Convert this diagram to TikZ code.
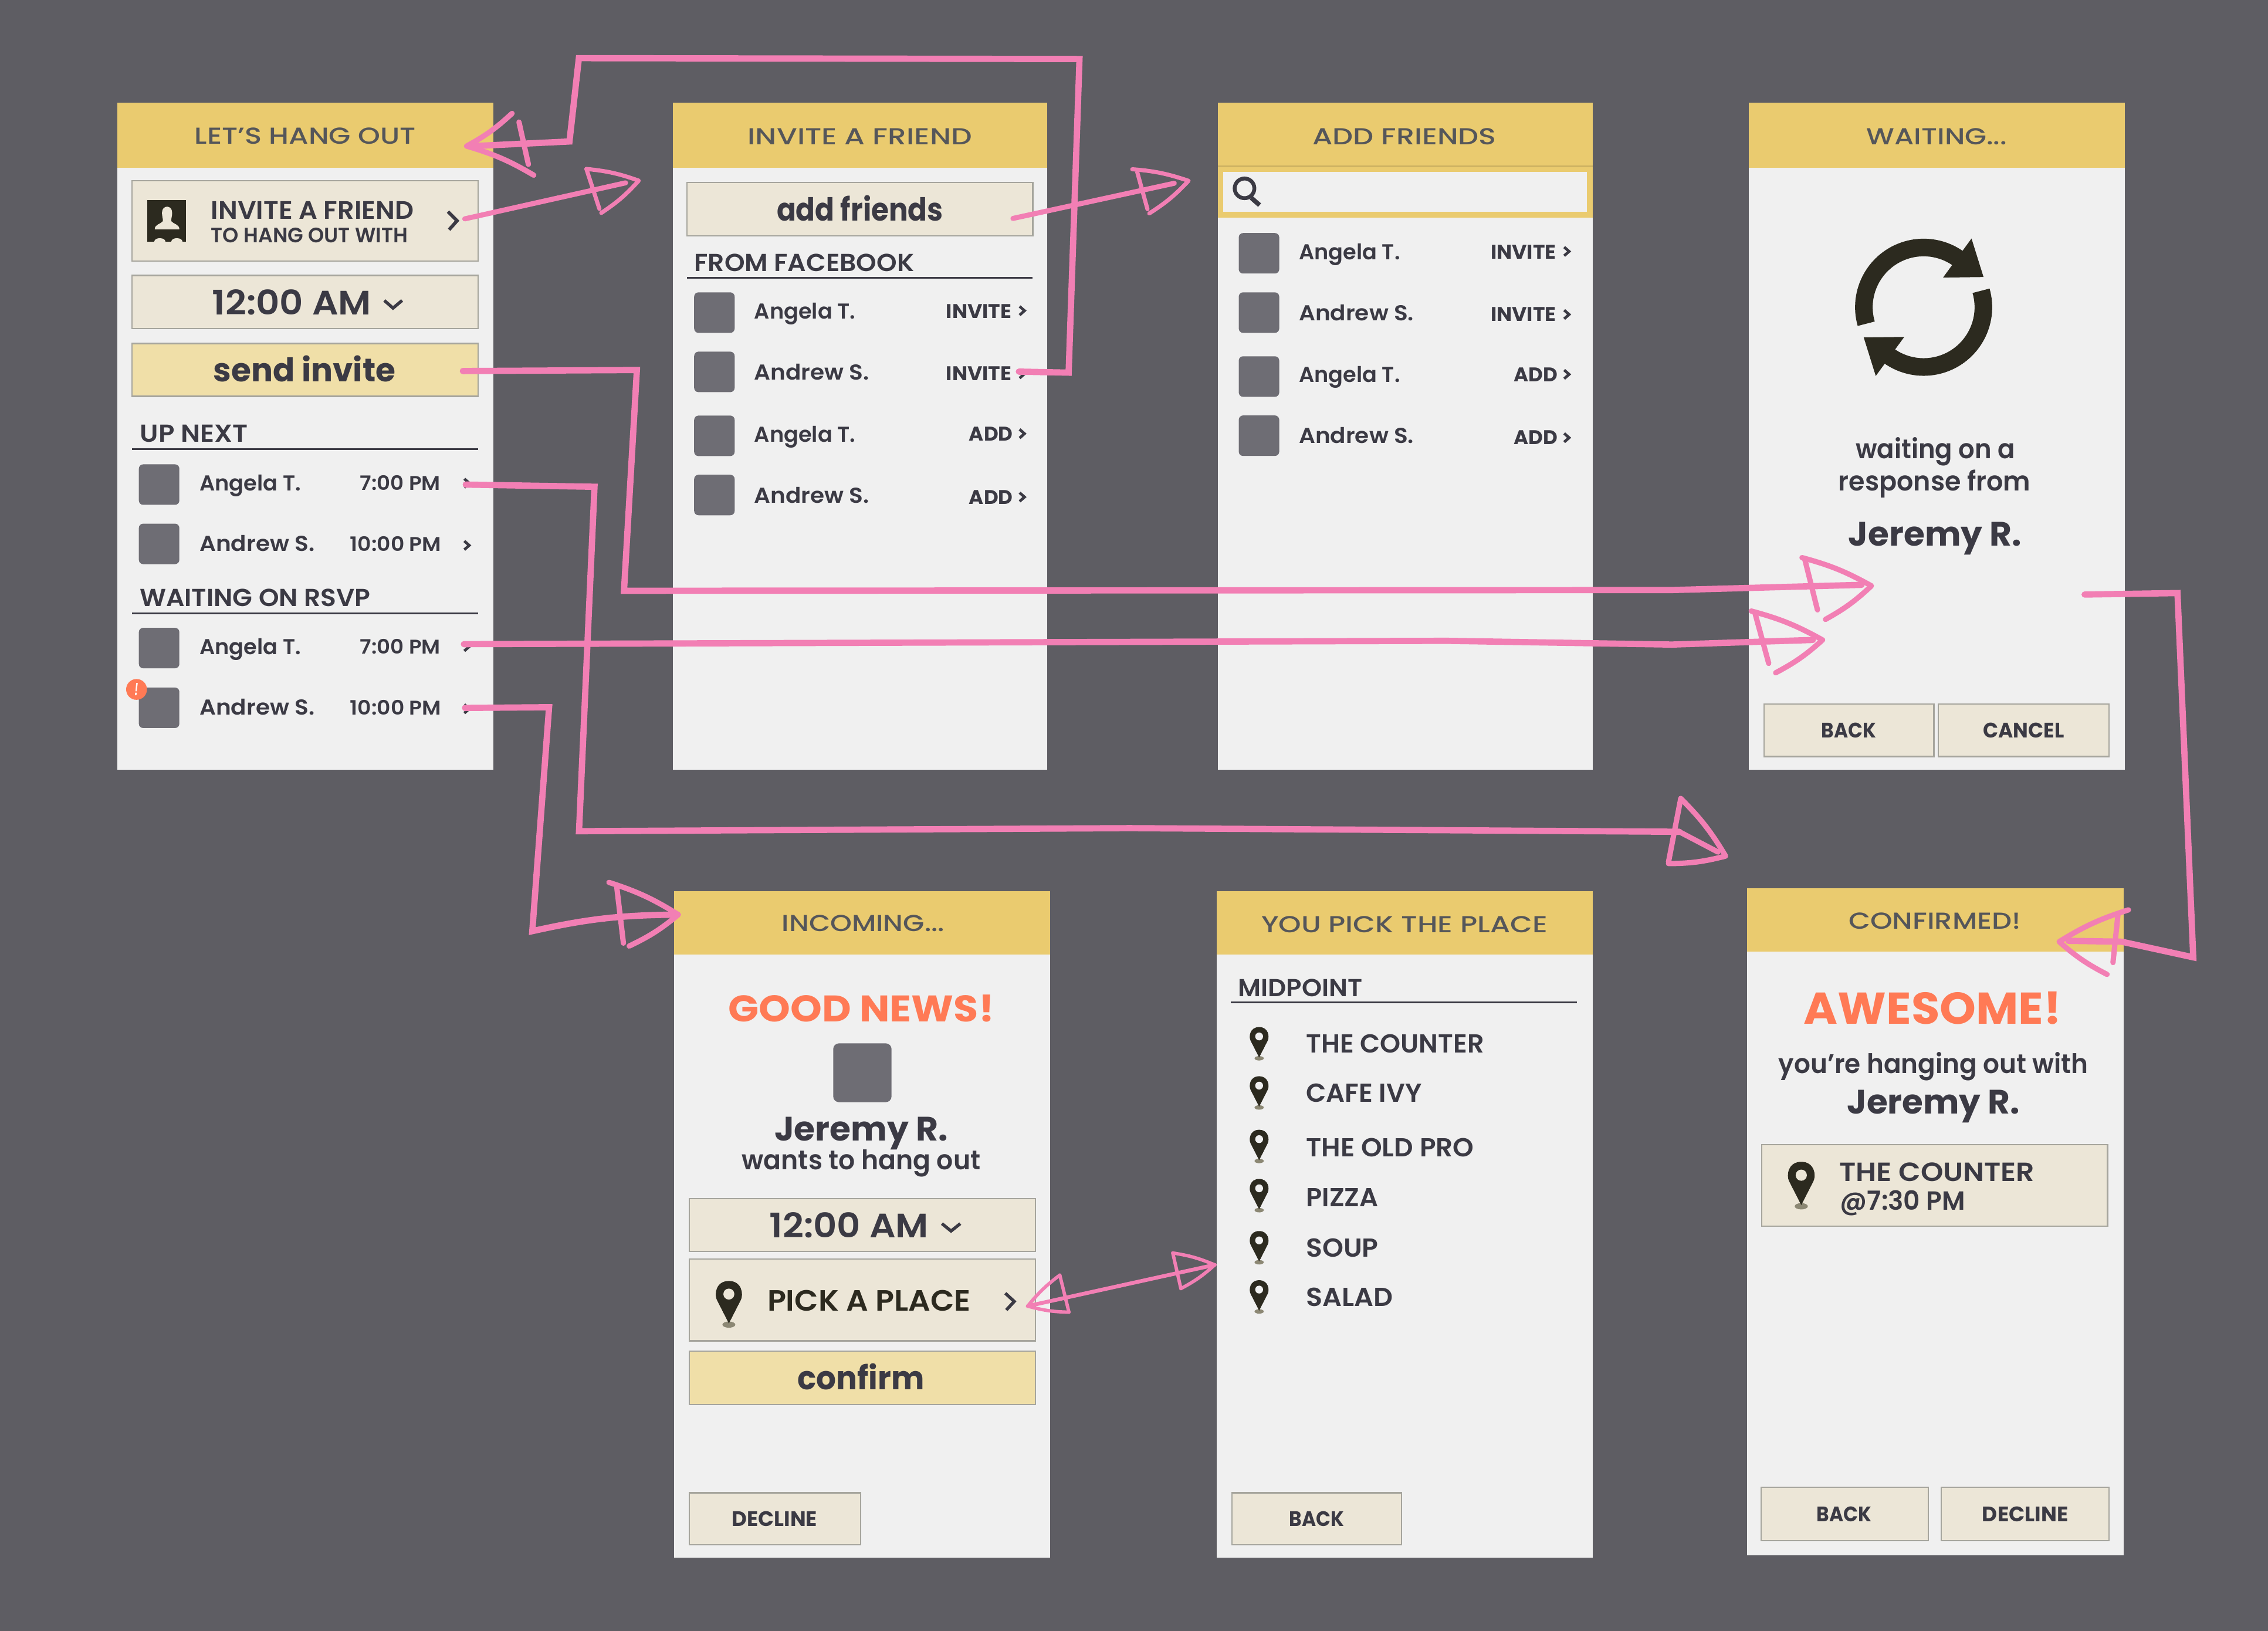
\documentclass[tikz,border=0pt]{standalone}
\usepackage{fontspec}
\usepackage{graphicx}
\setmainfont{Poppins}
\newfontfamily\fM{Poppins Medium}
\newfontfamily\fS{Poppins SemiBold}
\newfontfamily\fB{Poppins Bold}
\definecolor{bgc}{HTML}{5E5D63}
\definecolor{hdrc}{HTML}{EACB6F}
\definecolor{paperc}{HTML}{F0F0F0}
\definecolor{btnc}{HTML}{ECE6D7}
\definecolor{sendc}{HTML}{F0DFA8}
\definecolor{inkc}{HTML}{3B3A44}
\definecolor{headtxt}{HTML}{55565A}
\definecolor{iconc}{HTML}{2C2A1F}
\definecolor{orangec}{HTML}{FF7A55}
\definecolor{pinkc}{HTML}{F27FB4}
\definecolor{avac}{HTML}{6E6D74}
\definecolor{edgec}{HTML}{A6A59D}
\definecolor{pinshade}{HTML}{8C8874}
\newcommand\fs[1]{\fontsize{\fpeval{#1*0.6}}{\fpeval{#1*0.72}}\selectfont}
\newsavebox\tbx
\makeatletter
% [opts]{name}{(x,y)}{size}{target width}{text}
\newcommand\Tx[6][]{%
  \node[tx,#1] (#2) at #3 {\sbox\tbx{\fs{#4}#6}\scalebox{\fpeval{#5*0.6/\strip@pt\wd\tbx}}[1]{\usebox\tbx}};}
\makeatother
\tikzset{
  tx/.style={inner sep=0pt,outer sep=0pt,anchor=base,text=inkc},
  lft/.style={anchor=base west},
  hdtx/.style={text=headtxt},
  ava/.style={fill=avac,rounded corners=1.8pt,minimum width=16.8pt,minimum height=16.8pt,inner sep=0pt},
  btn/.style={fill=btnc,draw=edgec,line width=0.55pt},
  sendb/.style={fill=sendc,draw=edgec,line width=0.55pt},
  rulel/.style={draw=inkc,line width=0.6pt},
  chv/.style={draw=inkc,line width=1.15pt,line join=miter},
  shaft/.style={draw=pinkc,line width=2.6pt,line join=miter,line cap=round},
  thinshaft/.style={draw=pinkc,line width=1.6pt,line join=round,line cap=round},
  hd/.style={draw=pinkc,line width=2.2pt,line join=round,line cap=round},
  thinhd/.style={draw=pinkc,line width=1.4pt,line join=round,line cap=round},
}
\newcommand\Panel[5]{% x1 y1 x2 y2 yh
  \fill[paperc] (#1,#2) rectangle (#3,#4);
  \fill[hdrc] (#1,#2) rectangle (#3,#5);}
\newcommand\Sch[2]{\draw[chv] (#1-1.7,#2-3) -- (#1+1.7,#2) -- (#1-1.7,#2+3);}
\newcommand\Pin[3]{% cx, head-centre y, scale
  \begin{scope}[shift={(#1,#2)},scale=#3]
    \fill[pinshade] (0,128) ellipse (27 and 13);
    \fill[iconc] (0,123) -- (-50,25) .. controls (-62,2) and (-55,-55) .. (0,-55) .. controls (55,-55) and (62,2) .. (50,25) -- cycle;
    \fill[btnc] (0,0) circle (23);
  \end{scope}}
\newcommand\PinW[3]{% the same on the paper
  \begin{scope}[shift={(#1,#2)},scale=#3]
    \fill[pinshade] (0,128) ellipse (27 and 13);
    \fill[iconc] (0,123) -- (-50,25) .. controls (-62,2) and (-55,-55) .. (0,-55) .. controls (55,-55) and (62,2) .. (50,25) -- cycle;
    \fill[paperc] (0,0) circle (23);
  \end{scope}}
% [style]{tip}{wing1}{wing2}{cross1}{cross2}
\newcommand\Head[6][hd]{%
  \draw[#1] #3 to[bend left=7] (#2) to[bend left=7] #4;
  \draw[#1] #5 -- #6;}
\newcommand\Friends[1]{%
  \node[ava] (#1av1) at (870.4,175.1) {};
  \node[ava] (#1av2) at (870.4,216.1) {};
  \node[ava] (#1av3) at (870.4,260.3) {};
  \node[ava] (#1av4) at (870.4,301.2) {};
  \Tx[lft]{#1n1}{(898,179.3)}{14.9}{70}{\fS Angela T.}
  \Tx[lft]{#1n2}{(898,221.6)}{14.9}{79.5}{\fS Andrew S.}
  \Tx[lft]{#1n3}{(898,264.4)}{14.9}{70}{\fS Angela T.}
  \Tx[lft]{#1n4}{(898,306.6)}{14.9}{79.5}{\fS Andrew S.}
  \Tx[lft]{#1a1}{(1030.6,178.9)}{13.7}{45.3}{\fB INVITE}
  \Tx[lft]{#1a2}{(1030.6,222.2)}{13.7}{45.3}{\fB INVITE}
  \Tx[lft]{#1a3}{(1046.5,263.8)}{13.7}{30.3}{\fB ADD}
  \Tx[lft]{#1a4}{(1046.5,307.4)}{13.7}{30.3}{\fB ADD}
  \Sch{1083.1}{173.8}\Sch{1083.1}{217.4}\Sch{1083.1}{258.8}\Sch{1083.1}{302.6}}
\begin{document}
\begin{tikzpicture}[x=0.6pt,y=-0.6pt]
\useasboundingbox (0,0) rectangle (1568,1127.5);
\fill[bgc] (0,0) rectangle (1568,1127.5);

% ---------- panels
\Panel{81}{71}{341}{532}{116}
\Panel{465}{71}{724}{532}{116}
\Panel{842}{71}{1101}{532}{115}
\Panel{1209}{71}{1469}{532}{116}
\Panel{466}{616}{726}{1077}{660}
\Panel{841}{616}{1101}{1077}{660}
\Panel{1208}{614}{1468}{1075}{658}

% ---------- panel 1
\Tx[hdtx]{h1}{(211,99.5)}{16}{153}{\fM LET’S HANG OUT}
\path[btn] (91.4,125) rectangle (330.4,180.6);
\fill[iconc] (102,138.5) rectangle (128.6,167);
\fill[btnc] (112,147) .. controls (112,141.5) and (119,141.5) .. (119,147) .. controls (119,150) and (118,152) .. (118.5,153) .. controls (120,155) and (124,155) .. (124,158.5) -- (107,158.5) .. controls (107,155) and (111,155) .. (112.5,153) .. controls (113,152) and (112,150) .. (112,147) -- cycle;
\fill[btnc] (106.6,167) .. controls (106.6,164) and (114.4,164) .. (114.4,167) -- cycle;
\fill[btnc] (118.5,167) .. controls (118.5,164) and (126.2,164) .. (126.2,167) -- cycle;
\Tx[lft]{inv1}{(146,151.3)}{17.5}{140}{\fS INVITE A FRIEND}
\Tx[lft]{inv2}{(146,167.7)}{14.4}{136}{\fS TO HANG OUT WITH}
\draw[chv,line width=1.4pt] (309.7,146.3) -- (316,152.6) -- (310.5,158.8);
\path[btn] (91.4,190.4) rectangle (330.4,227);
\Tx[lft]{tm1}{(146.7,217.6)}{23.4}{110}{\fS 12:00 AM}
\draw[chv,line width=1.3pt] (265.7,207.7) -- (271.7,213) -- (278,207.7);
\path[sendb] (91.4,237.5) rectangle (330.4,274);
\Tx[lft]{send}{(147.5,264)}{22.5}{126}{\fB send invite}
\Tx[lft]{upn}{(96.8,305.8)}{17}{74.5}{\fS UP NEXT}
\draw[rulel] (91.4,310.4) -- (330.4,310.4);
\node[ava] (p1a1) at (110,335) {};
\node[ava] (p1a2) at (110,376) {};
\Tx[lft]{p1n1}{(138,339.4)}{14.9}{70}{\fS Angela T.}
\Tx[lft]{p1n2}{(138,381)}{14.9}{79.5}{\fS Andrew S.}
\Tx[lft]{p1t1}{(249,339)}{13.7}{55.6}{\fS 7:00 PM}
\Tx[lft]{p1t2}{(242,381)}{13.7}{63.2}{\fS 10:00 PM}
\Sch{322.7}{334}\Sch{322.7}{377}
\Tx[lft]{wrs}{(96.6,419)}{17}{159.5}{\fS WAITING ON RSVP}
\draw[rulel] (91.4,424) -- (330.4,424);
\node[ava] (p1a3) at (110,448) {};
\node[ava] (p1a4) at (110,489.3) {};
\Tx[lft]{p1n3}{(138,452.4)}{14.9}{70}{\fS Angela T.}
\Tx[lft]{p1n4}{(138,494.3)}{14.9}{79.5}{\fS Andrew S.}
\Tx[lft]{p1t3}{(249,452)}{13.7}{55.6}{\fS 7:00 PM}
\Tx[lft]{p1t4}{(242,494)}{13.7}{63.2}{\fS 10:00 PM}
\Sch{322.7}{447}\Sch{322.7}{490}
\fill[orangec] (94.4,476.6) circle (7.2);
\Tx[text=white]{bang}{(94.4,481)}{12}{2.6}{\fS\itshape !}

% ---------- panel 2
\Tx[hdtx]{h2}{(594.5,100)}{16}{155}{\fM INVITE A FRIEND}
\path[btn] (475,126) rectangle (714,163);
\Tx{addf}{(594.5,152.5)}{22}{115}{\fB add friends}
\Tx[lft]{ffb}{(480,187.5)}{17}{152}{\fS FROM FACEBOOK}
\draw[rulel] (475,192) -- (714,192);
\begin{scope}[shift={(-376.5,41)}]
\Friends{pb}
\end{scope}

% ---------- panel 3
\fill[hdrc] (842,115) rectangle (1101,150.3);
\fill[paperc] (845.6,118.8) rectangle (1097,146.4);
\draw[hdrc!88!black,line width=0.6pt] (842,115) -- (1101,115);
\Tx[hdtx]{h3}{(971,100)}{16}{127}{\fM ADD FRIENDS}
\draw[inkc,line width=1.6pt] (860.4,130.2) circle (6.8);
\draw[inkc,line width=1.9pt] (865,136.7) -- (870.8,141.8);
\Friends{pc}

% ---------- panel 4
\Tx[hdtx]{h4}{(1339,100)}{16}{97}{\fM WAITING...}
\draw[iconc,line width=7.3pt] (1329.9,212.4) ++(-196:41.3) arc[start angle=-196,end angle=-50,radius=41.3];
\fill[iconc] (1363,164.9) -- (1371.3,191.5) -- (1343.3,191.9) -- cycle;
\draw[iconc,line width=7.3pt] (1329.9,212.4) ++(-16:41.3) arc[start angle=-16,end angle=130,radius=41.3];
\fill[iconc] (1296.8,259.9) -- (1288.5,233.3) -- (1316.5,232.9) -- cycle;
\Tx{w1}{(1338,317)}{18.6}{110}{\fS waiting on a}
\Tx{w2}{(1337.4,339.3)}{18.6}{132.8}{\fS response from}
\Tx{w3}{(1337.8,377.2)}{23.4}{119.7}{\fB Jeremy R.}
\path[btn] (1219.7,486.7) rectangle (1337,523);
\path[btn] (1340,486.7) rectangle (1458,523);
\Tx{w4}{(1278.2,510)}{14.5}{37.9}{\fB BACK}
\Tx{w5}{(1399,510)}{14.5}{56}{\fB CANCEL}

% ---------- panel 5
\Tx[hdtx]{h5}{(596.8,644)}{16}{112.4}{\fM INCOMING...}
\Tx[text=orangec]{good}{(595.4,706.5)}{25.6}{184}{\fB GOOD NEWS!}
\node[ava,minimum width=24.2pt,minimum height=24.4pt,rounded corners=2.4pt] (p5a) at (596.2,741.6) {};
\Tx{j5}{(595.4,788.8)}{23.4}{120}{\fB Jeremy R.}
\Tx{j6}{(595.4,808.6)}{18.6}{165}{\fS wants to hang out}
\path[btn] (476.7,828.6) rectangle (715.7,865);
\Tx[lft]{tm5}{(532,855.7)}{23.4}{110}{\fS 12:00 AM}
\draw[chv,line width=1.3pt] (651.2,845.9) -- (657.5,851) -- (663.9,845.9);
\path[btn] (476.7,870.4) rectangle (715.7,926.9);
\Pin{503.9}{894.6}{0.165}
\Tx[lft,text=iconc]{pick}{(530.5,906.4)}{20.3}{140.7}{\fS PICK A PLACE}
\draw[chv,line width=1.3pt] (695,894) -- (701.2,899.7) -- (695.7,905.6);
\path[sendb] (476.7,934) rectangle (715.7,971);
\Tx{conf}{(595.3,960.5)}{22.5}{87.6}{\fB confirm}
\path[btn] (476.7,1032) rectangle (595,1068);
\Tx{dec5}{(535.5,1055)}{14.5}{59}{\fB DECLINE}

% ---------- panel 6
\Tx[hdtx]{h6}{(971,644.5)}{16}{198}{\fM YOU PICK THE PLACE}
\Tx[lft]{mid}{(856,689)}{17}{86}{\fS MIDPOINT}
\draw[rulel] (851,693) -- (1090,693);
\PinW{870.5}{716.5}{0.118}
\PinW{870.5}{750.5}{0.118}
\PinW{870.5}{787.5}{0.118}
\PinW{870.5}{821.5}{0.118}
\PinW{870.5}{857.5}{0.118}
\PinW{870.5}{891.5}{0.118}
\Tx[lft]{l1}{(903,728)}{18}{123}{\fS THE COUNTER}
\Tx[lft]{l2}{(903,762)}{18}{80}{\fS CAFE IVY}
\Tx[lft]{l3}{(903,799.5)}{18}{116}{\fS THE OLD PRO}
\Tx[lft]{l4}{(903,834)}{18}{50}{\fS PIZZA}
\Tx[lft]{l5}{(903,869)}{18}{50}{\fS SOUP}
\Tx[lft]{l6}{(903,903)}{18}{60}{\fS SALAD}
\path[btn] (851.6,1032) rectangle (969,1068);
\Tx{bk6}{(910.4,1055)}{14.5}{38}{\fB BACK}

% ---------- panel 7
\Tx[hdtx]{h7}{(1337.7,642.3)}{16}{119.3}{\fM CONFIRMED!}
\Tx[text=orangec]{awe}{(1336.2,707.8)}{30.8}{178.3}{\fB AWESOME!}
\Tx{you}{(1336.7,742)}{18.6}{214}{\fS you’re hanging out with}
\Tx{j7}{(1336.7,770)}{23.4}{119.4}{\fB Jeremy R.}
\path[btn] (1218,791.3) rectangle (1457,847.7);
\Pin{1245.3}{812.4}{0.168}
\Tx[lft]{tc}{(1271.7,816.5)}{18.2}{135}{\fS THE COUNTER}
\Tx[lft]{tc2}{(1272.2,836.7)}{18.2}{86.5}{\fS @7:30 PM}
\path[btn] (1217.5,1028) rectangle (1333,1065);
\path[btn] (1342,1028) rectangle (1458,1065);
\Tx{bk7}{(1275,1052)}{14.5}{38}{\fB BACK}
\Tx{dc7}{(1400.2,1052)}{14.5}{59.5}{\fB DECLINE}

% ---------- pink arrows
\coordinate (a1s) at (704.4,256.9);
\coordinate (a1b) at (738.8,257.6);
\coordinate (a1c) at (746.3,40.8);
\coordinate (a1d) at (400.2,40.2);
\coordinate (a1e) at (393.7,97.8);
\coordinate (a1f) at (327,101);
\coordinate (a1t) at (322.6,101);
\draw[shaft] (a1s) -- (a1b) -- (a1c) -- (a1d) -- (a1e) -- (a1f);
\Head{a1t}{(354,78.4)}{(369,121.1)}{(358.8,84.4)}{(365.3,113.6)}

\coordinate (a2s) at (321.3,151.3);
\coordinate (a2e) at (432.5,126.4);
\coordinate (a2t) at (441.6,124.9);
\draw[shaft,line width=2.1pt] (a2s) -- (a2e);
\Head[hd,line width=1.7pt]{a2t}{(405.4,116.8)}{(415.7,147.2)}{(405.4,116.8)}{(414.4,144.4)}

\coordinate (a3s) at (700.3,151);
\coordinate (a3e) at (811.8,126.7);
\coordinate (a3t) at (821.7,125);
\draw[shaft,line width=2.1pt] (a3s) -- (a3e);
\Head[hd,line width=1.7pt]{a3t}{(782.8,117)}{(794.6,147.5)}{(786.2,118.9)}{(793.3,144.6)}

\coordinate (a4s) at (320,256.5);
\coordinate (a4b) at (440.3,255.8);
\coordinate (a4c) at (431.4,408.4);
\coordinate (a4d) at (1155.9,407.9);
\coordinate (a4e) at (1287,404.3);
\coordinate (a4t) at (1293.8,405);
\draw[shaft] (a4s) -- (a4b) -- (a4c) -- (a4d) -- (a4e);
\Head{a4t}{(1245.8,385.5)}{(1262,428.2)}{(1247.8,386.9)}{(1256.5,421.6)}

\coordinate (a5s) at (320.7,445.3);
\coordinate (a5b) at (1000,443);
\coordinate (a5c) at (1155.9,445.6);
\coordinate (a5e) at (1253.3,442.4);
\coordinate (a5t) at (1260,442.4);
\draw[shaft] (a5s) -- (a5b) -- (a5c) -- (a5e);
\Head{a5t}{(1210.7,422.4)}{(1227.6,465.1)}{(1213.3,423.8)}{(1222.8,458.6)}

\coordinate (a6s) at (322,335);
\coordinate (a6b) at (411,336.5);
\coordinate (a6c) at (400.3,574.6);
\coordinate (a6d) at (781,572.5);
\coordinate (a6e) at (1161,575);
\coordinate (a6f) at (1187.7,589);
\coordinate (a6t) at (1193,591.8);
\draw[shaft] (a6s) -- (a6b) -- (a6c) -- (a6d) -- (a6e);
\draw[hd] (a6e) -- (a6f);
\Head{a6t}{(1162,552)}{(1153.5,597)}{(1162,552)}{(1153.5,596)}

\coordinate (a7s) at (321.5,489.4);
\coordinate (a7b) at (379.6,488.9);
\coordinate (a7c) at (368,643.7);
\coordinate (a7e) at (467.7,632.3);
\coordinate (a7t) at (469,632.3);
\draw[shaft] (a7s) -- (a7b) -- (a7c) to[bend left=6] (a7e);
\Head{a7t}{(421,610)}{(435,654)}{(426.3,612.4)}{(431,652)}

\coordinate (a8l) at (710.5,902.9);
\coordinate (a8r) at (839.8,874.4);
\draw[thinshaft] (a8l) -- (a8r);
\Head[thinhd]{a8l}{(739,907.1)}{(732.7,881.5)}{(732.7,881.5)}{(739,907.1)}
\Head[thinhd]{a8r}{(810.8,866.2)}{(816.4,890.8)}{(810.8,866.2)}{(816.4,890.8)}

\coordinate (a9s) at (1441.2,411);
\coordinate (a9b) at (1505.4,410);
\coordinate (a9c) at (1516.3,661.8);
\coordinate (a9d) at (1466.8,651);
\coordinate (a9e) at (1430,650.4);
\coordinate (a9t) at (1423.6,651);
\draw[shaft] (a9s) -- (a9b) -- (a9c) -- (a9d) -- (a9e);
\Head{a9t}{(1456.7,673.6)}{(1471.5,629)}{(1464.2,632.7)}{(1460.8,665.4)}
\end{tikzpicture}
\end{document}
